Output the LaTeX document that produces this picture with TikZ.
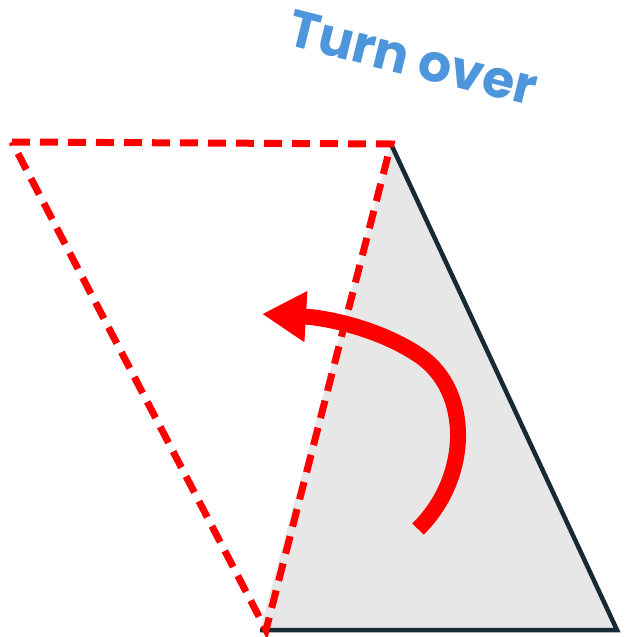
\documentclass[tikz,border=0pt]{standalone}
\usepackage{fontspec}
\setmainfont{Poppins}
\usetikzlibrary{arrows.meta,positioning}
\definecolor{labelblue}{RGB}{78,150,220}
\definecolor{edgedark}{RGB}{22,42,52}
\definecolor{sheetgray}{RGB}{231,231,231}
\begin{document}
\begin{tikzpicture}[x=1pt, y=-1pt, fold/.style={red, line width=7pt, dash pattern=on 18pt off 10pt, line join=miter}, flip/.style={red, line width=16pt, -{Triangle[length=44pt, width=48pt]}}]
\useasboundingbox (0,0) rectangle (624,637);
\coordinate (top) at (391,144);
\coordinate (bl) at (260,630);
\coordinate (br) at (617,630);
\coordinate (ml) at (12,142);
\coordinate (foot) at (266,630);
\fill[sheetgray] (top) -- (bl) -- (br) -- cycle;
\draw[edgedark, line width=4.5pt, line join=miter] (top) -- (br) -- (bl);
\draw[fold] (ml) -- (top) -- (foot) -- cycle;
\coordinate (start) at (418,529);
\coordinate (bend) at (420,356);
\coordinate (tip) at (262,314);
\draw[flip] (start) .. controls (470,478) and (472,392) .. (bend) .. controls (382,330) and (330,318) .. (tip);
\node[labelblue, font=\bfseries\fontsize{52}{54}\selectfont, rotate=-14] (label) at (413,58) {Turn over};
\end{tikzpicture}
\end{document}
